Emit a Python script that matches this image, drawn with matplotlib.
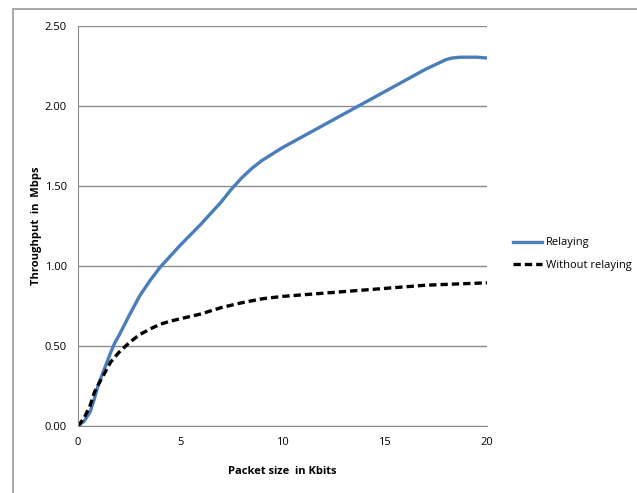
import matplotlib.pyplot as plt
from matplotlib.patches import Rectangle

# Relaying (solid blue)
x_rel = [0, 0.3, 0.6, 0.8, 1.0, 1.3, 1.6, 1.8, 2.0, 2.5, 3.0, 3.5, 4.0, 4.5, 5, 6, 7, 7.5, 8, 8.5, 9, 9.5,
         10, 11, 12, 13, 14, 15, 16, 17, 17.5, 18, 18.3, 18.7, 19.5, 20]
y_rel = [0, 0.03, 0.09, 0.17, 0.26, 0.36, 0.46, 0.52, 0.565, 0.69, 0.81, 0.905, 0.99, 1.06, 1.13, 1.26, 1.40, 1.48,
         1.55, 1.61, 1.66, 1.70, 1.74, 1.81, 1.88, 1.95, 2.02, 2.09, 2.16, 2.23, 2.26, 2.29, 2.30, 2.305, 2.305, 2.30]

# Without relaying (dashed black)
x_wo = [0, 0.3, 0.6, 0.8, 1.0, 1.3, 1.6, 2.0, 2.5, 3, 3.5, 4, 4.5, 5, 6, 7, 8, 9, 10, 11, 12, 13, 14, 15, 16,
        17, 18, 19, 20]
y_wo = [0, 0.05, 0.13, 0.21, 0.26, 0.33, 0.40, 0.46, 0.52, 0.57, 0.605, 0.635, 0.655, 0.67, 0.70, 0.74, 0.77,
        0.795, 0.81, 0.82, 0.83, 0.84, 0.85, 0.86, 0.87, 0.88, 0.885, 0.89, 0.895]

yticks = [0, 0.5, 1.0, 1.5, 2.0, 2.5]
xticks = [0, 5, 10, 15, 20]

plt.rcParams['font.family'] = ['Open Sans', 'DejaVu Sans']

fig = plt.figure(figsize=(6.37, 4.93), dpi=100)
W, H = 637, 493
# outer chart frame (partly cut off at right and bottom)
fig.patches.append(Rectangle((13 / W, -0.1), 1.2, 1 - 9 / H + 0.1, transform=fig.transFigure,
                             fill=False, edgecolor='#9a9a9a', linewidth=1.2))

ax = fig.add_axes([78 / W, 1 - 426 / H, (487 - 78) / W, (426 - 26) / H])
ax.plot(x_rel, y_rel, color='#4a7ebb', linewidth=2.4, label='Relaying')
ax.plot(x_wo, y_wo, color='black', linewidth=2.4, linestyle=(0, (2.2, 1.2)), label='Without relaying')

ax.set_xlim(0, 20)
ax.set_ylim(0, 2.5)
ax.set_xticks(xticks)
ax.set_yticks(yticks)
ax.set_yticklabels([f'{v:.2f}' for v in yticks])
ax.tick_params(length=0, labelsize=8, pad=8)
ax.grid(axis='y', color='#8c8c8c', linewidth=1)
ax.set_axisbelow(True)
for s in ['top', 'right']:
    ax.spines[s].set_visible(False)
for s in ['left', 'bottom']:
    ax.spines[s].set_color('#8c8c8c')

ax.set_xlabel('Packet size  in Kbits', fontsize=8, fontweight='bold', labelpad=13)
ax.set_ylabel('Throughput  in  Mbps', fontsize=8, fontweight='bold', labelpad=2)

ax.legend(loc='center left', bbox_to_anchor=(1.04, 0.43), frameon=False, fontsize=8,
          handlelength=2.6, handletextpad=0.3, labelspacing=1.0)

fig.savefig('out.png', dpi=100)
